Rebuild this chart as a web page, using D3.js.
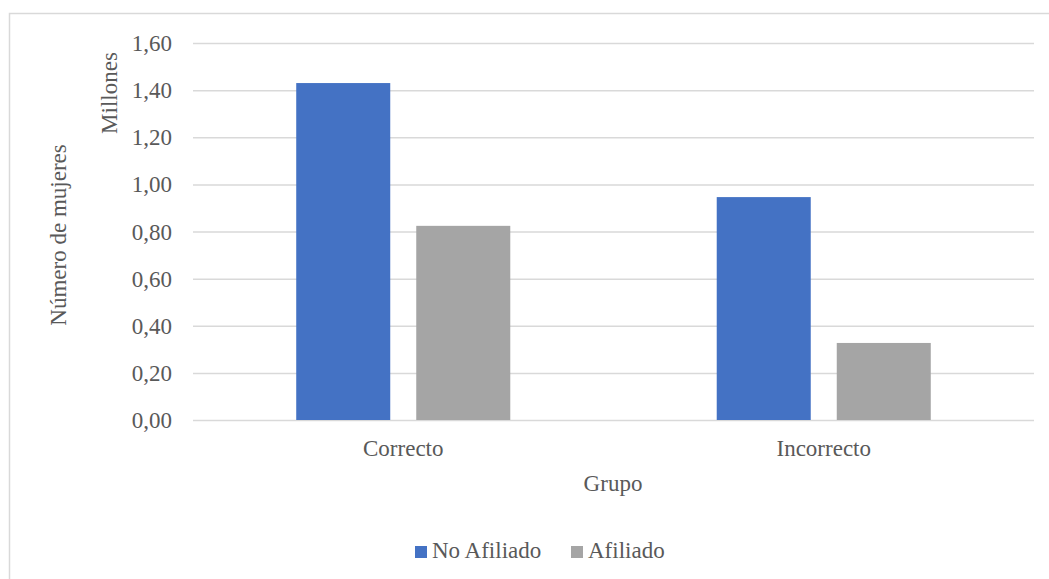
<!DOCTYPE html>
<html>
<head>
<meta charset="utf-8">
<script src="https://cdn.jsdelivr.net/npm/d3@7"></script>
<style>
  body { margin: 0; background: #fff; }
  svg text { font-family: "Liberation Serif", "Times New Roman", Times, "DejaVu Serif", serif; fill: #595959; }
</style>
</head>
<body>
<div id="chart"></div>
<script>
// Datos del gráfico
var grupos = ["Correcto", "Incorrecto"];
var series = ["No Afiliado", "Afiliado"];
var noAfiliado = [1.43, 0.946];
var afiliado = [0.824, 0.327];
var yTicks = [0, 0.2, 0.4, 0.6, 0.8, 1.0, 1.2, 1.4, 1.6];
var colores = ["#4472C4", "#A5A5A5"];

var svgWidth = 1049;
var svgHeight = 579;

var margin = { top: 43, right: 15, bottom: 159, left: 193 };
var width = 1034 - margin.left;
var height = 420 - margin.top;

var svg = d3.select("#chart").append("svg")
  .attr("width", svgWidth)
  .attr("height", svgHeight);

// borde del gráfico
svg.append("rect")
  .attr("x", 9.5)
  .attr("y", 13.5)
  .attr("width", 1060)
  .attr("height", 600)
  .attr("fill", "none")
  .attr("stroke", "#D9D9D9")
  .attr("stroke-width", 1.5);

var chartGroup = svg.append("g")
  .attr("transform", `translate(${margin.left}, ${margin.top})`);

var x0 = d3.scaleBand()
  .domain(grupos)
  .range([0, width])
  .paddingInner(0)
  .paddingOuter(0);

var x1 = d3.scaleBand()
  .domain(series)
  .range([0, x0.bandwidth()])
  .paddingInner(0.2167)
  .paddingOuter(0.86);

var y = d3.scaleLinear()
  .domain([0, 1.6])
  .range([height, 0]);

var fmt = function(d) { return d3.format(".2f")(d).replace(".", ","); };

// líneas de cuadrícula y etiquetas del eje Y
var leftAxis = d3.axisLeft(y)
  .tickValues(yTicks)
  .tickSize(-width)
  .tickPadding(21)
  .tickFormat(fmt);

var yAxis = chartGroup.append("g")
  .call(leftAxis);
yAxis.attr("font-family", null);
yAxis.select(".domain").remove();
yAxis.selectAll("line")
  .attr("stroke", "#D9D9D9")
  .attr("stroke-width", 1.5);
yAxis.selectAll("text")
  .attr("font-size", "23px")
  .attr("fill", "#595959")
  .attr("dy", "0.33em");

// barras
var filas = grupos.map(function(g, i) {
  return { grupo: g, valores: [noAfiliado[i], afiliado[i]] };
});

var grupoBars = chartGroup.selectAll(".grupo")
  .data(filas)
  .enter()
  .append("g")
  .attr("transform", d => `translate(${x0(d.grupo)}, 0)`);

grupoBars.selectAll("rect")
  .data(d => d.valores.map((v, j) => ({ serie: series[j], valor: v, color: colores[j] })))
  .enter()
  .append("rect")
  .attr("x", d => x1(d.serie))
  .attr("y", d => y(d.valor))
  .attr("width", x1.bandwidth())
  .attr("height", d => height - y(d.valor))
  .attr("fill", d => d.color);

// etiquetas del eje X
var bottomAxis = d3.axisBottom(x0).tickSize(0).tickPadding(20);
var xAxis = chartGroup.append("g")
  .attr("transform", `translate(0, ${height})`)
  .call(bottomAxis);
xAxis.attr("font-family", null);
xAxis.select(".domain").remove();
xAxis.selectAll("text")
  .attr("font-size", "23px")
  .attr("fill", "#595959");

// títulos
svg.append("text")
  .attr("x", 613)
  .attr("y", 491)
  .attr("text-anchor", "middle")
  .attr("font-size", "23px")
  .text("Grupo");

svg.append("text")
  .attr("transform", "translate(66, 235) rotate(-90)")
  .attr("text-anchor", "middle")
  .attr("font-size", "23px")
  .text("Número de mujeres");

svg.append("text")
  .attr("transform", "translate(117, 93) rotate(-90)")
  .attr("text-anchor", "middle")
  .attr("font-size", "23px")
  .text("Millones");

// leyenda
var legend = svg.append("g").attr("transform", "translate(415, 546)");
var legendX = [0, 156];
series.forEach(function(s, i) {
  var item = legend.append("g").attr("transform", `translate(${legendX[i]}, 0)`);
  item.append("rect")
    .attr("width", 12)
    .attr("height", 12)
    .attr("fill", colores[i]);
  item.append("text")
    .attr("x", 17)
    .attr("y", 12)
    .attr("font-size", "23px")
    .text(s);
});
</script>
</body>
</html>
